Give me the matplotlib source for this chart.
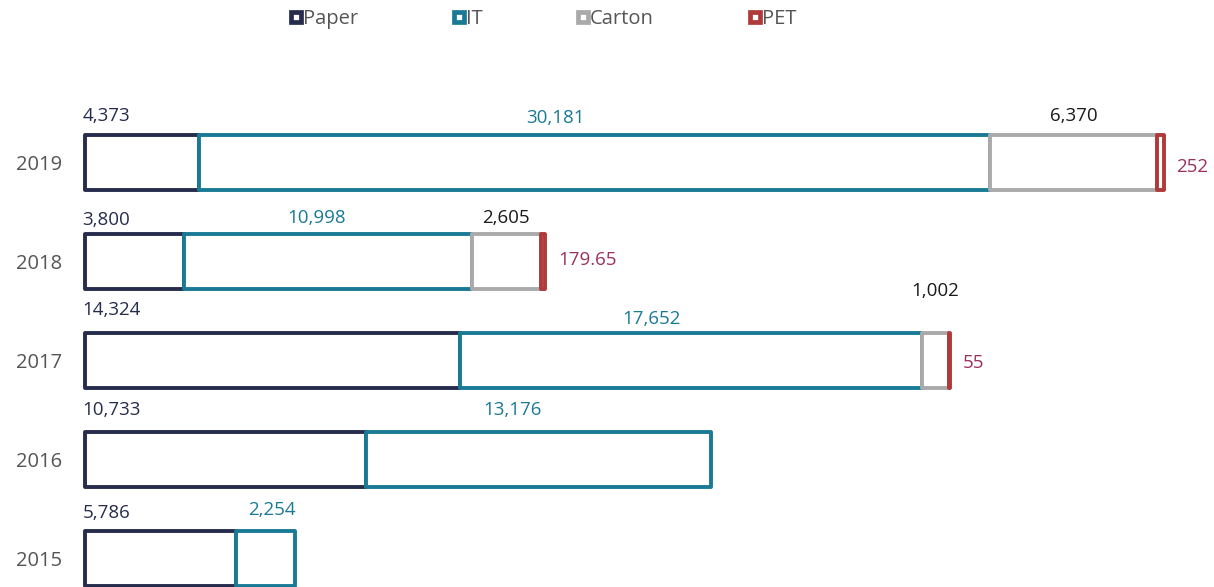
import matplotlib
matplotlib.use('Agg')
import matplotlib.pyplot as plt
from matplotlib.lines import Line2D

# ---------------- data ----------------
years = ['2019', '2018', '2017', '2016', '2015']
paper = [4373, 3800, 14324, 10733, 5786]
it_vals = [30181, 10998, 17652, 13176, 2254]
carton = [6370, 2605, 1002, 0, 0]
pet = [252, 179.65, 55, 0, 0]
series_names = ['Paper', 'IT', 'Carton', 'PET']

# ---------------- style ----------------
plt.rcParams['font.family'] = ['Open Sans', 'DejaVu Sans']
edge_cols = ['#262c4c', '#1a7a96', '#aaaaaa', '#b03a3a']
label_cols = ['#262c4c', '#1a7a96', '#1a1a1a', '#9b3060']

W, H = 1214, 587
fig = plt.figure(figsize=(W / 100, H / 100), dpi=100)
s = 0.026205  # px per unit
x0px = 84.5
axl = 80
ax = fig.add_axes([axl / W, 0, (W - axl) / W, 1])
ax.set_xlim(-(x0px - axl) / s, (W - x0px) / s)
yc0, step = 162.5, 99.0
ax.set_ylim((H - yc0) / step, (0 - yc0) / step)

ypos = list(range(len(years)))
bh = 0.565
lw = 2.8
series = [paper, it_vals, carton, pet]
lefts = [0] * len(years)
seg_left = []
for k, vals in enumerate(series):
    sl = []
    for i, v in enumerate(vals):
        if v > 0:
            ax.barh(ypos[i], v, left=lefts[i], height=bh, color='white',
                    edgecolor=edge_cols[k], linewidth=lw, joinstyle='round',
                    zorder=2 + k)
        sl.append(lefts[i])
    seg_left.append(sl)
    lefts = [lefts[i] + vals[i] for i in range(len(years))]

def fmt(v):
    return '{:,}'.format(v)

px_to_pt = 0.72
fs = 13.5
cap = 6.7  # half cap height in px

# paper labels: left aligned above bar
paper_dy = [48, 43, 52, 51, 47]
for i, v in enumerate(paper):
    ax.annotate(fmt(v), (0, ypos[i]), xytext=(-2, paper_dy[i] - cap),
                textcoords='offset pixels', ha='left', va='baseline',
                fontsize=fs, color=label_cols[0], zorder=10)

# IT labels
it_dy = [46, 45, 43, 51, 50]
it_frac = [0.45, 0.46, 0.415, 0.425, 0.6]
for i, v in enumerate(it_vals):
    x = seg_left[1][i] + v * it_frac[i]
    ax.annotate(fmt(v), (x, ypos[i]), xytext=(0, it_dy[i] - cap),
                textcoords='offset pixels', ha='center', va='baseline',
                fontsize=fs, color=label_cols[1], zorder=10)

# carton labels
carton_dy = [48, 45, 71]
for i, v in enumerate(carton):
    if v > 0:
        x = seg_left[2][i] + v / 2
        ax.annotate(fmt(v), (x, ypos[i]), xytext=(0, carton_dy[i] - cap),
                    textcoords='offset pixels', ha='center', va='baseline',
                    fontsize=fs, color=label_cols[2], zorder=10)

# PET labels
pet_dy = [-3, 3, -1]
for i, v in enumerate(pet):
    if v > 0:
        x = seg_left[3][i] + v
        ax.annotate(fmt(v), (x, ypos[i]), xytext=(13, pet_dy[i] - cap),
                    textcoords='offset pixels', ha='left', va='baseline',
                    fontsize=fs, color=label_cols[3], zorder=10)

ax.set_yticks(ypos)
ax.set_yticklabels(years, fontsize=14.5, color='#555555')
ax.tick_params(axis='y', length=0, pad=18 * px_to_pt)
ax.set_xticks([])
for sp in ax.spines.values():
    sp.set_visible(False)

handles = [Line2D([], [], linestyle='none', marker='s', markersize=6.5,
                  markerfacecolor='white', markeredgecolor=c, markeredgewidth=3.4)
           for c in edge_cols]
fig.legend(handles, series_names, loc='center', ncol=4, frameon=False,
           bbox_to_anchor=(543 / W, 1 - 19 / H), fontsize=14.5,
           labelcolor='#555555', handlelength=0.6, handletextpad=0.05,
           columnspacing=4.7, borderpad=0, borderaxespad=0)

fig.savefig('out.png', dpi=100)
